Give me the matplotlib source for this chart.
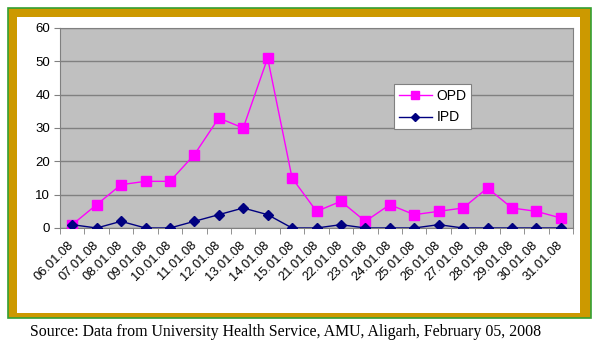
import numpy as np
import matplotlib.pyplot as plt
from matplotlib.patches import Rectangle

dates = ["06.01.08", "07.01.08", "08.01.08", "09.01.08", "10.01.08", "11.01.08",
         "12.01.08", "13.01.08", "14.01.08", "15.01.08", "21.01.08", "22.01.08",
         "23.01.08", "24.01.08", "25.01.08", "26.01.08", "27.01.08", "28.01.08",
         "29.01.08", "30.01.08", "31.01.08"]
opd = [1, 7, 13, 14, 14, 22, 33, 30, 51, 15, 5, 8, 2, 7, 4, 5, 6, 12, 6, 5, 3]
ipd = [1, 0, 2, 0, 0, 2, 4, 6, 4, 0, 0, 1, 0, 0, 0, 1, 0, 0, 0, 0, 0]
yticks = [0, 10, 20, 30, 40, 50, 60]

W, H = 600, 347
fig = plt.figure(figsize=(6, 3.47), dpi=100)
fig.patch.set_facecolor("white")

# frame: green line, gold band, white inside (drawn behind the axes)
fig.patches.append(Rectangle((8 / W, 29 / H), 583 / W, 310 / H, transform=fig.transFigure,
                             facecolor="#CC9900", edgecolor="#33A033", linewidth=1.2, zorder=-2))
fig.patches.append(Rectangle((17 / W, 34 / H), 563 / W, 296 / H, transform=fig.transFigure,
                             facecolor="white", edgecolor="none", zorder=-1))

ax = fig.add_axes([60 / W, (H - 228) / H, 513 / W, 200 / H])
ax.set_facecolor("#C0C0C0")
x = np.arange(len(dates))

ax.plot(x, opd, color="#FF00FF", marker="s", markersize=6.5, linewidth=1, label="OPD", zorder=3)
ax.plot(x, ipd, color="#000080", marker="D", markersize=5, linewidth=1, label="IPD", zorder=3)

ax.set_xlim(-0.5, len(dates) - 0.5)
ax.set_ylim(0, 60)
ax.set_yticks(yticks)
ax.yaxis.grid(True, color="#808080", linewidth=1)
ax.set_axisbelow(True)

ax.set_xticks(x)
ax.set_xticklabels(dates, rotation=45, ha="right", va="center", rotation_mode="anchor",
                   fontsize=9.3, family="Liberation Sans")
ax.tick_params(axis="x", length=0, pad=11)
ax.set_xticks(np.arange(-0.5, len(dates)), minor=True)
ax.tick_params(axis="x", which="minor", length=4, color="#808080", direction="out")
ax.tick_params(axis="y", length=4, color="#808080", labelsize=9.5, pad=3)
for lab in ax.get_yticklabels():
    lab.set_family("Liberation Sans")

for s in ["top", "right", "left", "bottom"]:
    ax.spines[s].set_color("#808080")

leg = ax.legend(loc="upper left", bbox_to_anchor=((387 - 60) / 513, (228 - 77) / 200),
                frameon=True, fancybox=False, framealpha=1, edgecolor="#808080",
                prop={"family": "Liberation Sans", "size": 10},
                handlelength=2.4, borderpad=0.35, labelspacing=0.55, handletextpad=0.3,
                markerscale=0.8)
leg.get_frame().set_linewidth(0.8)

fig.text(30 / W, (H - 332) / H,
         "Source: Data from University Health Service, AMU, Aligarh, February 05, 2008",
         family="Liberation Serif", fontsize=11.4, va="center", ha="left")

fig.savefig("out.png", dpi=100)
